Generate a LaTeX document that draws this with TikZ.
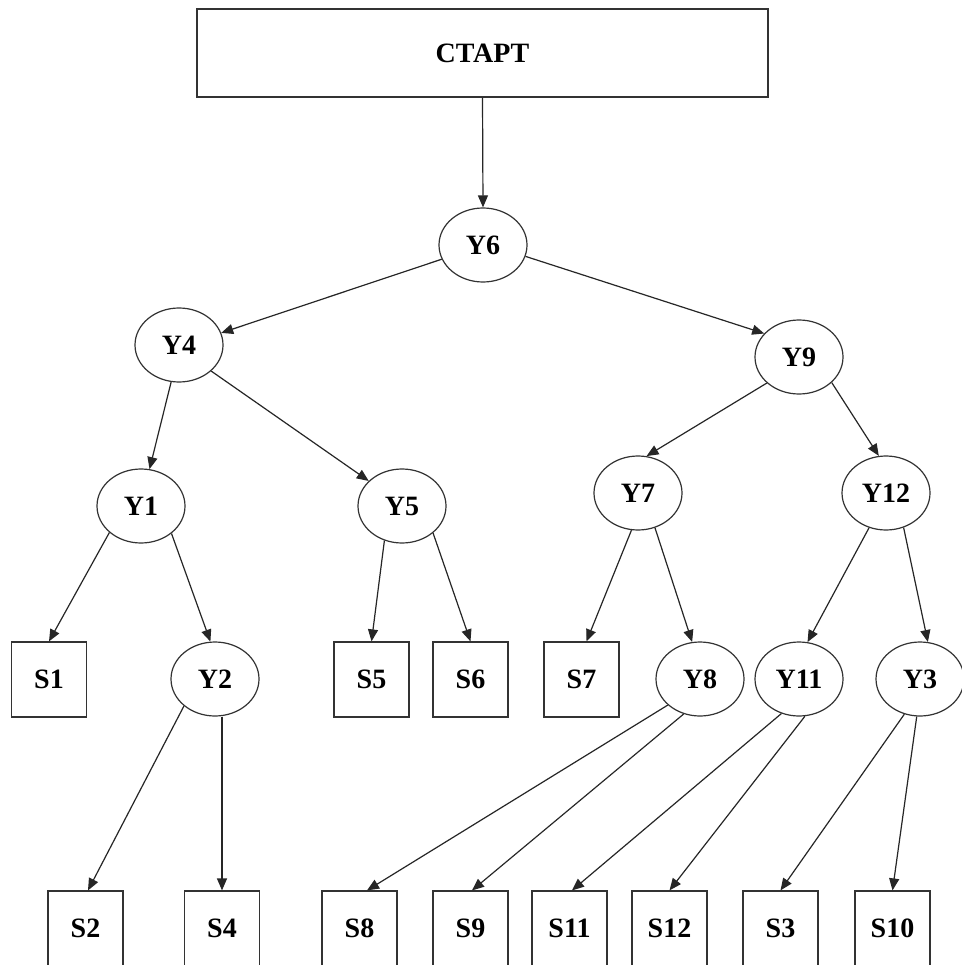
\documentclass[tikz,border=0pt]{standalone}
\usepackage{fontspec}
\setmainfont{Liberation Serif}
\usetikzlibrary{shapes.geometric,arrows.meta}
\begin{document}
\begin{tikzpicture}[x=1pt,y=-1pt,
  every node/.style={font=\fontsize{28}{32}\selectfont\bfseries, text=black},
  decision/.style={draw=black!80, line width=1.2pt, ellipse,
    minimum width=88pt, minimum height=74pt, inner sep=0pt},
  leaf/.style={draw=black!80, line width=1.2pt, rectangle,
    minimum width=75pt, minimum height=75pt, inner sep=0pt},
  startbox/.style={draw=black!80, line width=1.2pt, rectangle,
    minimum width=571pt, minimum height=88pt, inner sep=0pt},
  link/.style={draw=black!85, line width=1.2pt,
    -{Triangle[length=12pt,width=10pt]}}]

\fill[white] (0,0) rectangle (961,965);
\useasboundingbox (0,0) rectangle (961,965);

% root
\node[startbox] (start) at (482.5,53) {СТАРТ};

% decision nodes
\node[decision] (Y6)  at (483,245) {Y6};
\node[decision] (Y4)  at (179,345) {Y4};
\node[decision] (Y9)  at (799,357) {Y9};
\node[decision] (Y1)  at (141,506) {Y1};
\node[decision] (Y5)  at (402,506) {Y5};
\node[decision] (Y7)  at (638,493) {Y7};
\node[decision] (Y12) at (886,493) {Y12};
\node[decision] (Y2)  at (215,679) {Y2};
\node[decision] (Y8)  at (700,679) {Y8};
\node[decision] (Y11) at (799,679) {Y11};
\node[decision] (Y3)  at (920,679) {Y3};

% leaves, middle row
\node[leaf] (S1) at (49,679.5)    {S1};
\node[leaf] (S5) at (371.5,679.5) {S5};
\node[leaf] (S6) at (470.5,679.5) {S6};
\node[leaf] (S7) at (581.5,679.5) {S7};

% leaves, bottom row
\node[leaf] (S2)  at (85.5,928.5)  {S2};
\node[leaf] (S4)  at (222,928.5)   {S4};
\node[leaf] (S8)  at (359.5,928.5) {S8};
\node[leaf] (S9)  at (470.5,928.5) {S9};
\node[leaf] (S11) at (569.5,928.5) {S11};
\node[leaf] (S12) at (669.5,928.5) {S12};
\node[leaf] (S3)  at (780.5,928.5) {S3};
\node[leaf] (S10) at (892.5,928.5) {S10};

% edges
\draw[link] (start.south) -- (Y6.north);
\draw[link] (Y6.199) -- (Y4.16);
\draw[link] (Y6.345) -- (Y9.146);
\draw[link] (Y4.258) -- (Y1.77);
\draw[link] (Y4.321) -- (Y5.143);
\draw[link] (Y9.219) -- (Y7.77);
\draw[link] (Y9.322) -- (Y12.101);
\draw[link] (Y1.220) -- (S1.north);
\draw[link] (Y1.318) -- (Y2.97);
\draw[link] (Y5.243) -- (S5.north);
\draw[link] (Y5.319) -- (S6.north);
\draw[link] (Y7.260) -- ([xshift=5pt]S7.north);
\draw[link] (Y7.296) -- (Y8.102);
\draw[link] (Y12.244) -- (Y11.77);
\draw[link] (Y12.297) -- (Y3.78);
\draw[link] (Y2.221) -- ([xshift=2.5pt]S2.north);
\draw[link] (S4.north |- Y2.south) -- (S4.north);
\draw[link] (Y8.219) -- ([xshift=7.5pt]S8.north);
\draw[link] (Y8.245) -- ([xshift=1.5pt]S9.north);
\draw[link] (Y11.243) -- ([xshift=2.5pt]S11.north);
\draw[link] (Y11.279) -- (S12.north);
\draw[link] (Y3.246) -- (S3.north);
\draw[link] (Y3.265) -- (S10.north);
\end{tikzpicture}
\end{document}
